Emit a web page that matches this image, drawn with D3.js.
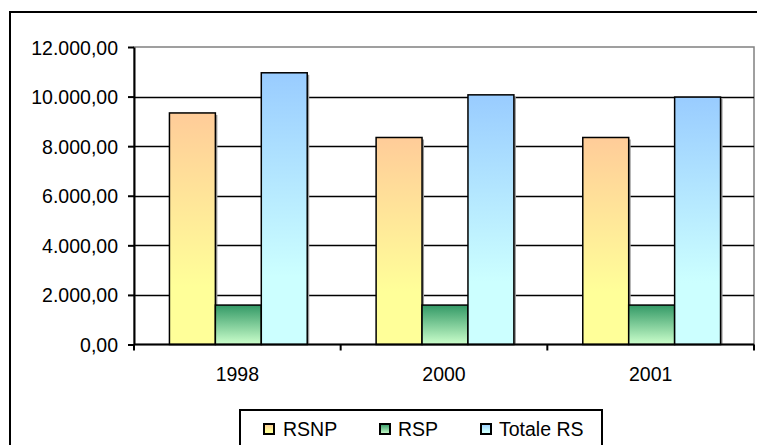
<!DOCTYPE html>
<html>
<head>
<meta charset="utf-8">
<script src="https://cdn.jsdelivr.net/npm/d3@7"></script>
<style>
  html, body { margin: 0; padding: 0; background: #fff; }
  svg { display: block; font-family: "Liberation Sans", Arial, sans-serif; }
</style>
</head>
<body>
<svg id="chart" width="757" height="445"></svg>
<script>
// Categories (years) and the three series
const years = ["1998", "2000", "2001"];
const seriesNames = ["RSNP", "RSP", "Totale RS"];
const rsnp = [9340, 8350, 8350];
const rsp = [1590, 1590, 1590];
const totaleRS = [10960, 10070, 9980];
const yTicks = [0, 2000, 4000, 6000, 8000, 10000, 12000];

// Gradient stops per series (top colour, bottom colour)
const gradTop = ["#FFCC99", "#339966", "#99CCFF"];
const gradBottom = ["#FFFF99", "#CCFFCC", "#CCFFFF"];

const values = [rsnp, rsp, totaleRS];
const rows = years.map((y, i) => ({ year: y, vals: seriesNames.map((s, j) => ({ key: s, idx: j, value: values[j][i] })) }));

const svg = d3.select("#chart");
const fmt = v => {
  const s = d3.format(",.2f")(v);
  return s.replace(/,/g, "#").replace(/\./g, ",").replace(/#/g, ".");
};

// Gradients
const defs = svg.append("defs");
seriesNames.forEach((s, j) => {
  const g = defs.append("linearGradient").attr("id", "g" + j)
    .attr("x1", 0).attr("y1", 0).attr("x2", 0).attr("y2", 1);
  g.append("stop").attr("offset", "0%").attr("stop-color", gradTop[j]);
  g.append("stop").attr("offset", j === 1 ? "100%" : "75%").attr("stop-color", gradBottom[j]);
  g.append("stop").attr("offset", "100%").attr("stop-color", gradBottom[j]);
});

// Outer chart frame
svg.append("rect").attr("x", 10).attr("y", 12).attr("width", 800).attr("height", 500)
  .attr("fill", "none").attr("stroke", "#000").attr("stroke-width", 2);

const plot = { left: 134, right: 754, top: 47, bottom: 344.5 };

const x0 = d3.scaleBand().domain(years).range([plot.left, plot.right]);
const bw = x0.bandwidth();
const barW = bw / 4.5;
const x1 = d3.scaleBand().domain(seriesNames).range([barW * 0.75 + 1, bw - barW * 0.75 + 1]);
const y = d3.scaleLinear().domain([0, 12000]).range([plot.bottom, plot.top]);

// Plot-area border (grey)
svg.append("rect").attr("x", plot.left).attr("y", plot.top)
  .attr("width", plot.right - plot.left).attr("height", plot.bottom - plot.top)
  .attr("fill", "#fff").attr("stroke", "#808080").attr("stroke-width", 1.5);

// Gridlines
svg.append("g").selectAll("line").data(yTicks.filter(t => t > 0 && t < 12000)).join("line")
  .attr("x1", plot.left).attr("x2", plot.right)
  .attr("y1", d => Math.round(y(d)) + 0.5).attr("y2", d => Math.round(y(d)) + 0.5)
  .attr("stroke", "#000").attr("stroke-width", 1.3);

// Bars
const groups = svg.append("g").selectAll("g").data(rows).join("g")
  .attr("transform", d => `translate(${x0(d.year)},0)`);

groups.selectAll("rect.shadow").data(d => d.vals).join("rect").attr("class", "shadow")
  .attr("x", d => x1(d.key) + 2).attr("y", d => y(d.value) + 2)
  .attr("width", x1.bandwidth()).attr("height", d => plot.bottom - y(d.value) - 2)
  .attr("fill", "#999");

groups.selectAll("rect.bar").data(d => d.vals).join("rect").attr("class", "bar")
  .attr("x", d => x1(d.key)).attr("y", d => y(d.value))
  .attr("width", x1.bandwidth()).attr("height", d => plot.bottom - y(d.value))
  .attr("fill", d => `url(#g${d.idx})`)
  .attr("stroke", "#000").attr("stroke-width", 1.5);

// Y axis
const yAxis = svg.append("g").attr("transform", `translate(${plot.left},0)`)
  .call(d3.axisLeft(y).tickValues(yTicks).tickFormat(fmt).tickSize(6).tickSizeOuter(0));
yAxis.select(".domain").attr("stroke", "#000").attr("stroke-width", 2);
yAxis.selectAll(".tick line").attr("stroke", "#000").attr("stroke-width", 2);
yAxis.selectAll(".tick text").attr("font-size", "19.5px").attr("fill", "#000")
  .attr("font-family", "Liberation Sans, Arial, sans-serif").attr("x", -16).attr("dy", "0.36em");

// X axis with ticks at category boundaries
const xAxis = svg.append("g").attr("transform", `translate(0,${plot.bottom})`);
xAxis.append("line").attr("x1", plot.left).attr("x2", plot.right)
  .attr("stroke", "#000").attr("stroke-width", 2);
const bounds = years.map(d => x0(d)).concat([plot.right]);
xAxis.selectAll("line.tk").data(bounds).join("line").attr("class", "tk")
  .attr("x1", d => d).attr("x2", d => d).attr("y1", 0).attr("y2", 6)
  .attr("stroke", "#000").attr("stroke-width", 2);
xAxis.selectAll("text").data(years).join("text")
  .attr("x", d => x0(d) + bw / 2).attr("y", 36.5)
  .attr("text-anchor", "middle").attr("font-size", "19.5px").attr("fill", "#000")
  .text(d => d);

// Legend
const legend = svg.append("g");
legend.append("rect").attr("x", 240).attr("y", 410).attr("width", 362).attr("height", 60)
  .attr("fill", "#fff").attr("stroke", "#000").attr("stroke-width", 2);
const legX = [264, 380, 481];
const legTextX = [283, 398, 499];
seriesNames.forEach((s, j) => {
  legend.append("rect").attr("x", legX[j]).attr("y", 424).attr("width", 10).attr("height", 10)
    .attr("fill", `url(#g${j})`).attr("stroke", "#000").attr("stroke-width", 2);
  legend.append("text").attr("x", legTextX[j]).attr("y", 435.5)
    .attr("font-size", "19.5px").attr("fill", "#000").text(s);
});
</script>
</body>
</html>
